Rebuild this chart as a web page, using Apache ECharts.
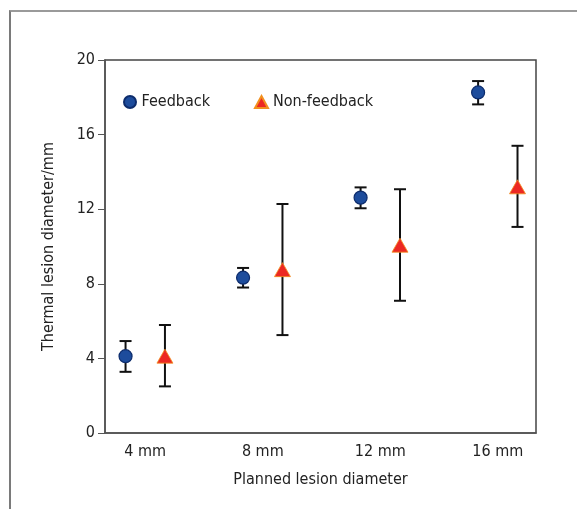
<!DOCTYPE html>
<html>
<head>
<meta charset="utf-8">
<script src="https://cdn.jsdelivr.net/npm/echarts@6/dist/echarts.min.js"></script>
<style>
html,body{margin:0;padding:0;background:#fff;}
#frame{position:absolute;left:9px;top:10px;width:600px;height:600px;border-top:2px solid #9a9a9a;border-left:2px solid #7a7a7a;}
#chart{position:absolute;left:0;top:0;width:577px;height:509px;}
</style>
</head>
<body>
<div id="frame"></div>
<div id="chart"></div>
<script>
const categories = [4, 8, 12, 16];
const feedbackMean = [4.12, 8.33, 12.62, 18.26];
const feedbackLow  = [3.28, 7.80, 12.05, 17.62];
const feedbackHigh = [4.93, 8.85, 13.17, 18.87];
const nonMean = [4.12, 8.76, 10.07, 13.20];
const nonLow  = [2.50, 5.25, 7.09, 11.05];
const nonHigh = [5.79, 12.28, 13.07, 15.40];

const FONT = "'Liberation Sans Narrow', 'DejaVu Sans Condensed', 'Noto Sans', sans-serif";
const OFF = 19.7;

function errSeries(name, lows, highs, off) {
  return {
    name: name + ' err',
    type: 'custom',
    z: 2,
    silent: true,
    data: categories.map((c, i) => [c, lows[i], highs[i]]),
    renderItem: function (params, api) {
      const x = api.value(0);
      const p1 = api.coord([x, api.value(1)]);
      const p2 = api.coord([x, api.value(2)]);
      const cx = p1[0] + off;
      const cap = 6;
      const st = { stroke: '#111', lineWidth: 2 };
      return {
        type: 'group',
        children: [
          { type: 'line', shape: { x1: cx, y1: p1[1], x2: cx, y2: p2[1] }, style: st },
          { type: 'line', shape: { x1: cx - cap, y1: p1[1], x2: cx + cap, y2: p1[1] }, style: st },
          { type: 'line', shape: { x1: cx - cap, y1: p2[1], x2: cx + cap, y2: p2[1] }, style: st }
        ]
      };
    }
  };
}

const chart = echarts.init(document.getElementById('chart'));
chart.setOption({
  animation: false,
  backgroundColor: 'transparent',
  textStyle: { fontFamily: FONT },
  grid: { left: 105, right: 41, top: 60, bottom: 76, show: true, borderColor: '#444', borderWidth: 1.5, backgroundColor: 'transparent' },
  legend: {
    left: 118, top: 89, itemGap: 44, itemWidth: 13, itemHeight: 12,
    data: ['Feedback', 'Non-feedback'],
    textStyle: { fontFamily: FONT, fontSize: 16, color: '#222', padding: [0, 0, 0, 0] }
  },
  xAxis: {
    type: 'value', min: 2.63, max: 17.3,
    name: 'Planned lesion diameter', nameLocation: 'middle', nameGap: 39,
    nameTextStyle: { fontFamily: FONT, fontSize: 16, color: '#222' },
    axisLine: { show: true, lineStyle: { color: '#555', width: 1.5 } },
    axisTick: { show: false },
    splitLine: { show: false },
    axisLabel: { customValues: categories, formatter: v => v + ' mm', margin: 11, fontFamily: FONT, fontSize: 16, color: '#222' }
  },
  yAxis: {
    type: 'value', min: 0, max: 20, interval: 4,
    name: 'Thermal lesion diameter/mm', nameLocation: 'middle', nameGap: 48,
    nameTextStyle: { fontFamily: FONT, fontSize: 16, color: '#222' },
    axisLine: { show: true, lineStyle: { color: '#555', width: 1.5 } },
    axisTick: { show: true, length: 7, lineStyle: { color: '#555', width: 1 } },
    splitLine: { show: false },
    axisLabel: { margin: 10, fontFamily: FONT, fontSize: 16, color: '#222' }
  },
  series: [
    errSeries('Feedback', feedbackLow, feedbackHigh, -OFF),
    errSeries('Non-feedback', nonLow, nonHigh, OFF),
    {
      name: 'Feedback', type: 'scatter', z: 3,
      symbol: 'circle', symbolSize: 13, symbolOffset: [-OFF, 0],
      itemStyle: { color: '#1d4c9c', borderColor: '#0d2c6c', borderWidth: 1.2, opacity: 1 },
      data: categories.map((c, i) => [c, feedbackMean[i]])
    },
    {
      name: 'Non-feedback', type: 'scatter', z: 3,
      symbol: 'triangle', symbolSize: [16, 14], symbolOffset: [OFF, 0],
      itemStyle: { color: '#ec2823', borderColor: '#f2901e', borderWidth: 0.8, opacity: 1 },
      data: categories.map((c, i) => [c, nonMean[i]])
    }
  ]
});
</script>
</body>
</html>
